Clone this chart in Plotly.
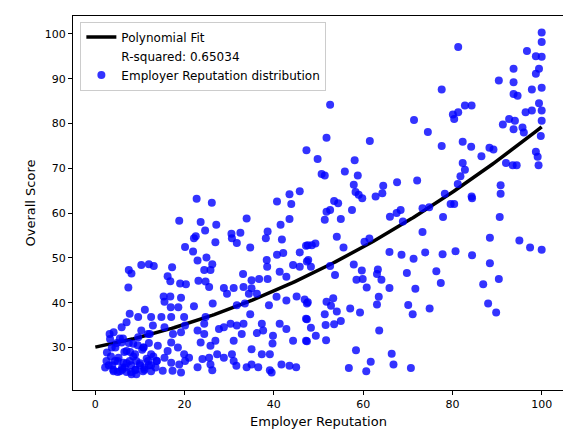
import numpy as np
import plotly.graph_objects as go

# employer reputation (x) and overall score (y)
rep = [100,100,100,96.7,98.7,93.7,93.7,90.4,99.4,98.7,97.8,100,93.7,94.6,77.6,81.3,80.1,81.3,82.8,84.3,80.4,96.4,97.8,99.4,100,91.3,92.7,94,93.7,95.7,96,100,99.8,71.4,74.5,77.6,82.3,84.2,86.5,88.3,89.2,98.7,99.1,99.3,92,93.5,94.4,82.3,82.8,81.8,81.2,90.8,90.8,78.3,84.3,84.4,79.6,80.4,77.9,90.6,88.4,95,97.4,100,80.7,77.8,84.4,88.4,90.4,86.9,88,89.8,77.4,76.4,74.9,73.3,73.9,72.1,67.6,73.3,74.8,68.4,66,67.5,68.9,65.9,68.6,71.3,69.8,71.7,70.1,71.1,66.4,66.8,70.7,65.9,64.1,63.3,63.1,63.5,63.1,63.6,61.5,64.5,64.3,62.8,59.8,59,58.3,57.9,58.8,58.1,55.9,57.5,55,54.1,55.6,61.4,60.3,59.7,59.9,60.8,58.5,57.9,57.1,59.3,58.4,56.8,60.7,61.7,49.8,51.8,52.6,50.7,51.4,53.5,54.4,51.4,51.8,52.6,49.3,48.5,47.6,52.6,53.7,51.8,53.3,52.8,54.1,51.4,55,53.5,51.6,51.7,49.4,48.3,47.4,47.4,47.6,48.3,47.7,
       22.7,26.1,18.8,23.6,27.1,24.6,22.1,22.5,20.1,21.9,26.9,30.5,32.5,31.7,30.6,33.9,34.7,38.6,38.2,40.7,41.5,41.8,43.5,43.9,43.5,45.8,22.9,24.9,26.2,24.4,25.8,17.2,10.3,12,13.1,7.5,8.1,7.4,16.2,16.8,19,20.3,23.1,24.7,25.5,15.3,16.8,19.2,16.9,18.6,15.5,22.1,26.3,28.8,31,29.5,33.1,33.2,35,36.7,38.4,38.5,38.6,40.7,42.1,41.3,42.8,44.3,45.8,45.8,47.2,47.4,35,36.2,34.4,31.7,33.5,38.9,40.6,42.8,45.1,46.9,47.4,
       34.7,41.3,42.8,39.8,39.7,44.3,47.2,47.2,37.3,37.6,36.2,33.2,31.7,30.3,28.8,27.7,31,32.8,35,37.3,39.1,30.6,31,27.3,28.8,33.9,35,36.5,39.1,39.5,41.7,43.5,45,31.6,25.8,26.2,22.9,24,25.5,23.6,24.4,22.9,24.7,24.4,25.8,26.9,19.9,20.1,19.2,17.4,18.5,19.9,21,20.1,18.8,19.2,17,17.3,15.1,15.5,16.2,17,15.5,14.8,17,12.5,12.9,11.1,9.6,7.7,7,5.9,4.1,3.3,3.7,2.6,2.2,4.1,5.5,6.6,7.7,8.9,10.3,9.6,11.8,10.8,12.5,11.8,10.7,12.5,13.7,9.2,8.1,14,5.9,5.2,7,8.5,4.4,6.3,47.3,
       3,3.5,4,4.5,5,5.5,6,6.5,7,7.5,8,8.5,9,9.5,10,10.5,11,11.5,12,12.5,13,13.5,3.2,4.8,6.2,7.8,9.2,10.8,12.2,13.8,5,6,7,8,9,10,11,12,2.5,3.8]
score = [100.3,98.2,94.9,96.2,95,92.2,89.2,89.6,92.2,91.1,87.6,88,86.6,86.2,87.6,97.1,82,82.5,84,84,81,82.5,82.9,84.5,82.9,79.8,81,80.6,78.7,79.1,78,80.6,77.2,80.8,78.1,75,75.9,74.8,72.7,74.6,74.2,73.7,72.6,70.7,71.2,70.7,70.7,71.2,69.7,68.2,66.5,66.2,64.3,64.3,63.7,63.3,62,62,59.1,59.1,54.5,53.9,52.3,51.8,51.5,50.8,50.6,48.8,45.3,44.1,39.8,37.8,44.4,47,38.7,55.8,51.2,67.3,66.9,61.1,61.3,60.7,59.2,60,58.1,51.3,50.7,49.8,46.6,43.1,39.5,37.4,28.6,26.2,25.4,43.3,45.1,47.4,46.4,41.3,39.6,33.8,76.1,66.1,64.4,63.7,63.3,64.1,64.7,66.3,68.4,71.8,69.3,60.7,58.7,54.7,52.3,54.3,53.6,47.2,45.3,43.4,45.1,48.5,38.7,37.8,29.4,25.4,24.7,26.8,72.1,76.8,84.2,68.7,68.4,62.7,62.2,58.5,60.3,60.7,53.2,52.8,52.8,48.2,46.2,40.2,41,39.3,38,37.4,35.9,35.2,35,31.6,32.6,34.4,31.4,36.3,40.1,48,49.5,
         63.2,62.3,58.3,58,57.4,56.1,54.4,54.8,52.4,51.4,53.5,55.4,55.6,53.3,54.4,58.8,52.3,55.9,54.4,62.6,57.4,54.1,64.2,62,58.7,64.9,49.4,50.1,48.6,47.3,47.3,47.9,48.4,48.6,48.2,47.3,46.5,43.4,45.9,44.8,44.3,44.1,44.9,44.7,43.5,41.4,41.4,41.1,39,39,40.2,39.2,39.8,43.3,43.3,42,46.4,43.5,45,45.3,49.5,48,45.3,50.7,51.1,46.9,45.8,48.4,48,51.2,52.7,49.2,43.2,42,42,39.4,39.8,39.4,41.3,40.5,41.4,40.7,39.8,
         37.4,35.3,34.1,32.6,30.9,31.5,36.4,31.5,35.3,33.8,33.2,35.3,34.9,35.3,34.5,34.1,31.5,33,29.6,28.5,28.5,28.5,27,28.5,27.7,25.6,26.2,25.6,24.9,24.4,26.2,25.9,25.6,25.9,26.2,24.9,25.6,27.4,27.7,31.1,33,33.8,36.8,35.3,30.4,31.5,36.8,34.9,33.4,33,30,28.5,27.7,27,26.2,24.4,26.6,24.8,24.8,27.7,29.2,31.1,34.5,36.8,36.8,36.8,34.9,38.4,36.8,37.5,35.6,34.5,33.4,31.9,30,28.9,25.5,24.7,24.7,25.5,27,28.5,33.8,32.3,33,30,28.5,27,24.7,24.7,27,24,24,30.4,31.1,27.7,29.2,30.8,27,26.6,74,
         26,28,25,30,27,32,25.5,29,26.5,31,24.5,28,25,30.5,26,29.5,25,27.5,31,26,28,25.5,33,31,32,29,27,30,33,27,24.5,25,24.5,26,25,26.5,25.5,26,27,26]

coef = np.polyfit(rep, score, 2)
fit_x = np.linspace(0, 100, 200)
fit_y = np.polyval(coef, fit_x)

fig = go.Figure()
fig.add_trace(go.Scatter(x=fit_x, y=fit_y, mode="lines", name="Polynomial Fit",
                         line=dict(color="black", width=3.5)))
fig.add_trace(go.Scatter(x=[None], y=[None], mode="lines", name="R-squared: 0.65034",
                         line=dict(color="rgba(0,0,0,0)")))
fig.add_trace(go.Scatter(x=rep, y=score, mode="markers", name="Employer Reputation distribution",
                         marker=dict(color="blue", size=8, opacity=0.8, line=dict(width=0))))

ax = dict(showgrid=False, zeroline=False, showline=True, linecolor="black", mirror=True,
          ticks="outside", ticklen=4, tickcolor="black", automargin=False)
fig.update_layout(
    width=571, height=432, plot_bgcolor="white", paper_bgcolor="white",
    margin=dict(l=65, r=15, t=8, b=50),
    font=dict(family="DejaVu Sans", size=11, color="black"),
    xaxis=dict(ax, title=dict(text="Employer Reputation", standoff=6), range=[-5, 105], dtick=20),
    yaxis=dict(ax, title=dict(text="Overall Score", standoff=6), range=[20.5, 104], dtick=10),
    legend=dict(x=0.015, y=0.985, xanchor="left", yanchor="top", bordercolor="#cccccc",
                borderwidth=1, bgcolor="rgba(255,255,255,0.8)", font=dict(size=12), tracegroupgap=0),
)
fig.write_html("out.html")
